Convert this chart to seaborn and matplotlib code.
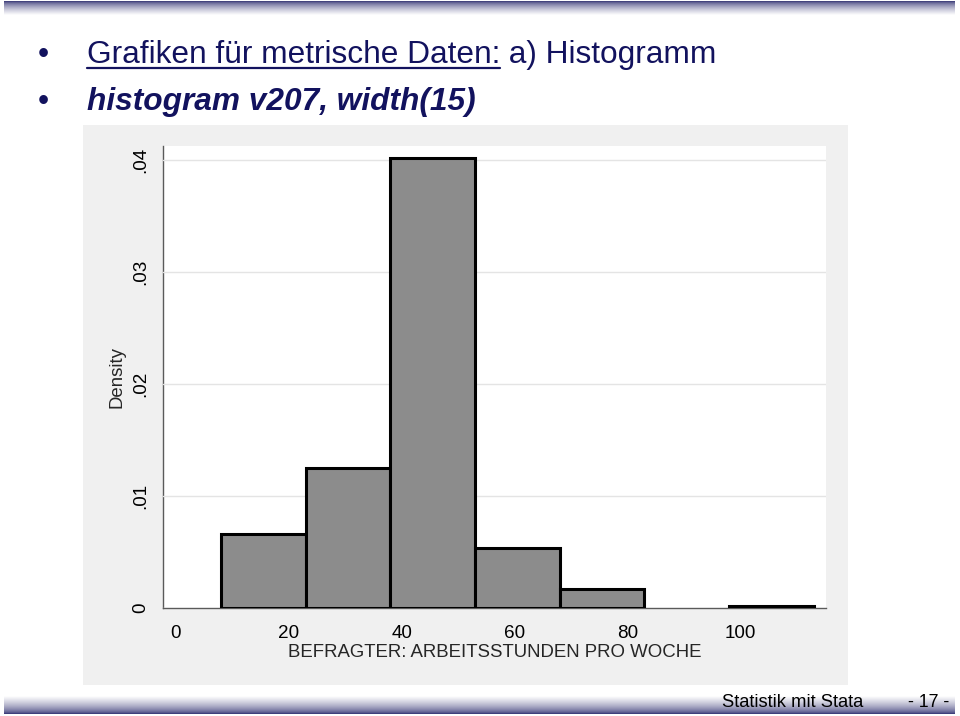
import numpy as np
import matplotlib
matplotlib.use("Agg")
import matplotlib.pyplot as plt
import seaborn as sns
from matplotlib.patches import Rectangle
from matplotlib.lines import Line2D

# histogram v207, width(15) -> Klassen von 8 bis 113 Stunden
bin_edges = [8, 23, 38, 53, 68, 83, 98, 113]
density = [0.0066, 0.0125, 0.0402, 0.0054, 0.0017, 0.0, 0.0002]
x_ticks = [0, 20, 40, 60, 80, 100]
y_ticks = [0, 0.01, 0.02, 0.03, 0.04]
y_ticklabels = ["0", ".01", ".02", ".03", ".04"]

title_1 = "Grafiken für metrische Daten:"
title_1b = " a) Histogramm"
title_2 = "histogram v207, width(15)"
x_label = "BEFRAGTER: ARBEITSSTUNDEN PRO WOCHE"
y_label = "Density"

sns.set_style("white")
plt.rcParams['font.family'] = ['Liberation Sans', 'DejaVu Sans']

W, H = 960, 716
fig = plt.figure(figsize=(9.6, 7.16), dpi=100)
fig.patch.set_facecolor("white")


def fx(px):
    return px / W


def fy(py):
    return 1 - py / H


# Farbverlauf oben und unten (Folienrahmen)
navy = np.array([0.17, 0.17, 0.43])
t = np.linspace(0, 1, 80) ** 0.6
band = navy[None, :] * (1 - t[:, None]) + t[:, None]
band_top = band[:, None, :]
ax_top = fig.add_axes([fx(4), fy(15), fx(955) - fx(4), 14 / H])
ax_top.imshow(band_top, aspect="auto")
ax_top.axis("off")

ax_bot = fig.add_axes([fx(4), fy(714), fx(955) - fx(4), 18 / H])
ax_bot.imshow(band_top[::-1], aspect="auto")
ax_bot.axis("off")

# grauer Stata-Hintergrund
fig.patches.append(Rectangle((fx(83), fy(685)), fx(848) - fx(83), (685 - 125) / H,
                             transform=fig.transFigure, facecolor="#f0f0f0",
                             edgecolor="none", zorder=-1))

ax = fig.add_axes([fx(163), fy(608), fx(826) - fx(163), (608 - 146) / H])
ax.set_facecolor("white")

centers = [(a + b) / 2 for a, b in zip(bin_edges[:-1], bin_edges[1:])]
sns.histplot(x=centers, weights=density, bins=bin_edges, stat="count",
             color="#8c8c8c", edgecolor="black", linewidth=2.2, alpha=1, ax=ax)
for p in ax.patches:
    if p.get_height() == 0:
        p.set_visible(False)

ax.set_xlim(-2.3, 115.2)
ax.set_ylim(0, 0.04125)
ax.set_xticks(x_ticks)
ax.set_yticks(y_ticks)
ax.set_yticklabels(y_ticklabels, rotation=90, va="center")
ax.yaxis.grid(True, color="#e4e4e4", linewidth=1)
ax.set_axisbelow(True)

for s in ["top", "right"]:
    ax.spines[s].set_visible(False)
for s in ["left", "bottom"]:
    ax.spines[s].set_color("#5a5a5a")
    ax.spines[s].set_linewidth(1)
    ax.spines[s].set_zorder(0.5)

ax.tick_params(axis="both", direction="out", length=6, width=1, color="#5a5a5a",
               labelsize=13.6, labelcolor="black")
ax.tick_params(axis="y", pad=4)
ax.tick_params(axis="x", pad=6)
ax.set_xlabel(x_label, fontsize=13.4, labelpad=1.5)
ax.set_ylabel(y_label, fontsize=13.4, labelpad=5)

# Folientitel
title_color = "#12125e"
fs = 22.8
fig.text(fx(43), fy(63), "\u2022", fontsize=fs, color=title_color, ha="center", va="baseline")
fig.text(fx(43), fy(110), "\u2022", fontsize=fs, color=title_color, ha="center", va="baseline")
t1 = fig.text(fx(87), fy(63), title_1, fontsize=fs, color=title_color, va="baseline")
fig.text(fx(87), fy(110), title_2, fontsize=fs, color=title_color, va="baseline",
         fontweight="bold", fontstyle="italic")

fig.canvas.draw()
bb = t1.get_window_extent(renderer=fig.canvas.get_renderer())
x_end = bb.x1 / fig.bbox.width
fig.text(x_end, fy(63), title_1b, fontsize=fs, color=title_color, va="baseline")
fig.lines.append(Line2D([fx(87), x_end], [fy(67.5), fy(67.5)], transform=fig.transFigure,
                        color=title_color, linewidth=1.6))

# Fusszeile
fig.text(fx(722), fy(707), "Statistik mit Stata", fontsize=13.2, color="black", va="baseline")
fig.text(fx(908), fy(707), "- 17 -", fontsize=12.8, color="black", va="baseline")

fig.savefig("out.png", dpi=100, facecolor="white")
